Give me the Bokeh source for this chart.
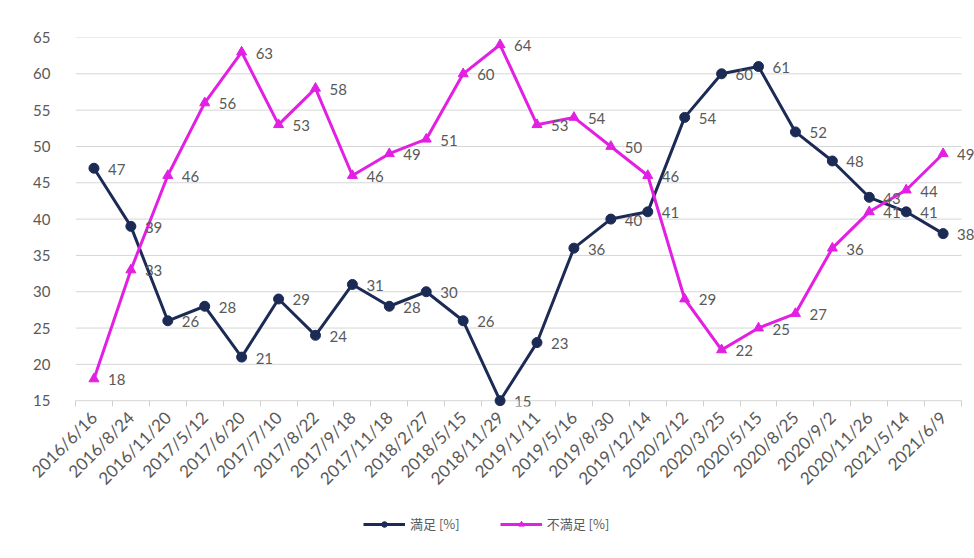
from bokeh.plotting import figure
from bokeh.layouts import column
from bokeh.models import ColumnDataSource, FixedTicker, Legend, LegendItem, Range1d
from bokeh.core.properties import value
from bokeh.embed import file_html
from bokeh.resources import INLINE

dates = ["2016/6/16", "2016/8/24", "2016/11/20", "2017/5/12", "2017/6/20", "2017/7/10",
         "2017/8/22", "2017/9/18", "2017/11/18", "2018/2/27", "2018/5/15", "2018/11/29",
         "2019/1/11", "2019/5/16", "2019/8/30", "2019/12/14", "2020/2/12", "2020/3/25",
         "2020/5/15", "2020/8/25", "2020/9/2", "2020/11/26", "2021/5/14", "2021/6/9"]
satisfied = [47, 39, 26, 28, 21, 29, 24, 31, 28, 30, 26, 15, 23, 36, 40, 41, 54, 60, 61, 52, 48, 43, 41, 38]
dissatisfied = [18, 33, 46, 56, 63, 53, 58, 46, 49, 51, 60, 64, 53, 54, 50, 46, 29, 22, 25, 27, 36, 41, 44, 49]
y_ticks = [15, 20, 25, 30, 35, 40, 45, 50, 55, 60, 65]
series_names = ["満足 [%]", "不満足 [%]"]

NAVY = "#1c2b55"
MAGENTA = "#e21fe2"
GRAY = "#595959"
FONT = "Lato"

n = len(dates)
xs = list(range(n))
x_lo, x_hi = -0.5, n - 0.5
y_lo, y_hi = y_ticks[0], y_ticks[-1]
src = ColumnDataSource(dict(
    x=xs, s=satisfied, d=dissatisfied,
    sl=[str(v) for v in satisfied], dl=[str(v) for v in dissatisfied]))
grid_src = ColumnDataSource(dict(x0=[x_lo] * len(y_ticks), x1=[x_hi] * len(y_ticks), y=y_ticks))

# main chart: frame runs to the right edge so the last data labels are cut by the page edge,
# and a little below the 15 line so that the "15" data label is not clipped
p = figure(width=974, height=500, output_backend="svg", toolbar_location=None,
           x_range=Range1d(x_lo, x_hi + 0.35), y_range=Range1d(y_lo - 0.8, y_hi),
           min_border_left=75, min_border_right=0, min_border_top=37, min_border_bottom=94)
p.outline_line_color = None
p.background_fill_color = "white"
p.border_fill_color = "white"

# grid lines (the lowest one doubles as the category axis line)
p.xgrid.grid_line_color = None
p.ygrid.grid_line_color = None
p.segment("x0", "y", "x1", "y", source=grid_src, line_color="#d6d6d6", line_width=1)

# axes
p.xaxis.ticker = FixedTicker(ticks=xs, minor_ticks=[i - 0.5 for i in range(n + 1)])
p.xaxis.bounds = (x_lo, x_hi)
p.xaxis.major_label_overrides = {i: d for i, d in enumerate(dates)}
p.xaxis.major_label_orientation = 0.785398
p.xaxis.major_tick_line_color = None
p.xaxis.minor_tick_line_color = "#d0d0d0"
p.xaxis.minor_tick_out = 0
p.xaxis.minor_tick_in = 6
p.xaxis.axis_line_color = None
p.xaxis.major_label_text_font = FONT
p.xaxis.major_label_text_font_size = "17px"
p.xaxis.major_label_text_color = GRAY
p.xaxis.major_label_standoff = 2

p.yaxis.ticker = FixedTicker(ticks=y_ticks)
p.yaxis.axis_line_color = None
p.yaxis.major_tick_line_color = None
p.yaxis.minor_tick_line_color = None
p.yaxis.major_label_text_font = FONT
p.yaxis.major_label_text_font_size = "15px"
p.yaxis.major_label_text_color = GRAY
p.yaxis.major_label_standoff = 19

# series
p.line("x", "s", source=src, line_color=NAVY, line_width=3)
p.scatter("x", "s", source=src, marker="circle", size=10, fill_color=NAVY, line_color=NAVY)
p.line("x", "d", source=src, line_color=MAGENTA, line_width=3)
p.scatter("x", "d", source=src, marker="triangle", size=10, fill_color=MAGENTA, line_color=MAGENTA)

for col, ycol in (("sl", "s"), ("dl", "d")):
    p.text("x", ycol, text=col, source=src, x_offset=14, y_offset=1,
           text_align="left", text_baseline="middle",
           text_font=value(FONT), text_font_size="15px", text_color=GRAY)

# legend strip under the chart; its renderers share the data but lie outside its ranges,
# so only the legend samples show
leg = figure(width=974, height=58, output_backend="svg", toolbar_location=None,
             x_range=Range1d(-3, -2), y_range=Range1d(-3, -2),
             x_axis_location=None, y_axis_location=None,
             min_border=0)
leg.outline_line_color = None
leg.xgrid.grid_line_color = None
leg.ygrid.grid_line_color = None
leg.background_fill_color = "white"
leg.border_fill_color = "white"
r1 = leg.line("x", "s", source=src, line_color=NAVY, line_width=3)
r1m = leg.scatter("x", "s", source=src, marker="circle", size=10, fill_color=NAVY, line_color=NAVY)
r2 = leg.line("x", "d", source=src, line_color=MAGENTA, line_width=3)
r2m = leg.scatter("x", "d", source=src, marker="triangle", size=10, fill_color=MAGENTA, line_color=MAGENTA)

legend = Legend(items=[LegendItem(label=series_names[0], renderers=[r1, r1m]),
                       LegendItem(label=series_names[1], renderers=[r2, r2m])],
                orientation="horizontal", location=(288, 25),
                glyph_width=42, glyph_height=14, spacing=40, padding=4, margin=0,
                label_text_font="Noto Sans CJK JP", label_text_font_size="13px",
                label_text_color=GRAY, border_line_color=None, background_fill_alpha=0)
leg.add_layout(legend, "center")

layout = column(p, leg, spacing=0)
open("out.html", "w").write(file_html(layout, INLINE))
